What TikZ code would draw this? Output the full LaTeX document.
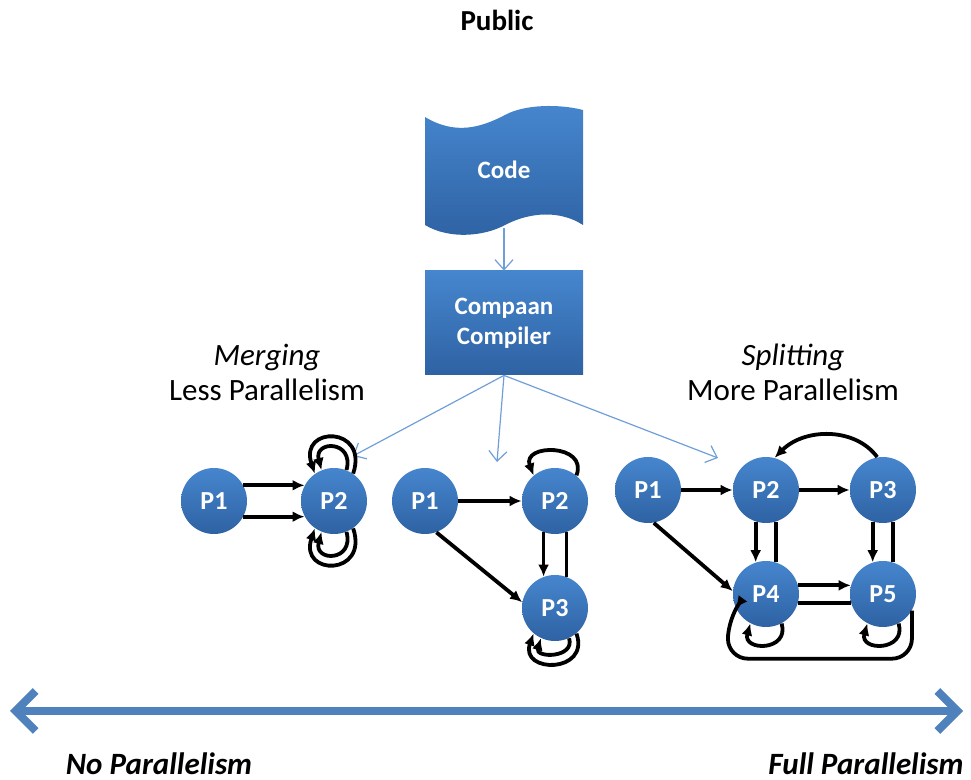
\documentclass[tikz,border=0pt]{standalone}
\usepackage{fontspec}
\setmainfont{Carlito}
\usetikzlibrary{arrows.meta,positioning}
\definecolor{boxtop}{HTML}{4686CE}
\definecolor{boxbot}{HTML}{2E62A3}
\definecolor{skyline}{HTML}{6F9FD8}
\definecolor{barblue}{HTML}{4F81BD}
\tikzset{boxtext/.style={text=white,align=center,font=\bfseries\fontsize{12.5}{15}\selectfont},
 box/.style={boxtext,rectangle,top color=boxtop,bottom color=boxbot,minimum width=79pt,minimum height=52pt},
 proc/.style={circle,minimum size=33pt,inner sep=0pt,top color=boxtop,bottom color=boxbot,text=white,font=\bfseries\fontsize{13}{15}\selectfont},
 link/.style={-{Latex[length=6pt,width=5.5pt]},line width=1.9pt},twin/.style={line width=1.9pt},
 feed/.style={-{Straight Barb[length=5pt,width=9pt]},draw=skyline,line width=0.6pt},
 side/.style={align=center,font=\fontsize{15.5}{17.5}\selectfont},
 bar/.style={{Straight Barb[length=10pt,width=20pt]}-{Straight Barb[length=10pt,width=20pt]},draw=barblue,line width=4pt}}
\begin{document}
\begin{tikzpicture}[x=0.5pt,y=-0.5pt]
\useasboundingbox (0,0) rectangle (971,780);
\node[font=\bfseries\fontsize{14.5}{17}\selectfont] (pub) at (497,20) {Public};
% code and compiler
\shade[top color=boxtop,bottom color=boxbot] (425,117) .. controls (455,135) and (480,128) .. (505,115)
 .. controls (525,104) and (560,104) .. (583,110) -- (583,225)
 .. controls (560,210) and (530,212) .. (505,225) .. controls (485,236) and (450,240) .. (425,225) -- cycle;
\node[boxtext,minimum width=79pt,minimum height=58pt] (code) at (504,170) {Code};
\node[box] (comp) at (504,323) {Compaan\\Compiler};
\draw[feed] (code.south) -- (comp.north);
\coordinate (mtip) at (353,456);
\coordinate (stip) at (497,462);
\coordinate (ftip) at (718,458);
\foreach \t in {mtip,stip,ftip}
 \draw[feed] (comp.south) -- (\t);
\node[side] (merge) at (267,372) {\textit{Merging}\\Less Parallelism};
\node[side] (split) at (793,372) {\textit{Splitting}\\More Parallelism};
% merged
\node[proc] (a1) at (214,501) {P1};
\node[proc] (a2) at (334,501) {P2};
\draw[link] (a1.28) -- (a2.152);
\draw[link] (a1.-28) -- (a2.-152);
\draw[link] (a2.55) .. controls +(16,-48) and +(-16,-48) .. (a2.125);
\draw[link] (a2.68) .. controls +(8,-30) and +(-8,-30) .. (a2.112);
\draw[link] (a2.-55) .. controls +(16,48) and +(-16,48) .. (a2.-125);
\draw[link] (a2.-68) .. controls +(8,30) and +(-8,30) .. (a2.-112);
% original
\node[proc] (b1) at (425,501) {P1};
\node[proc] (b2) at (555,501) {P2};
\node[proc] (b3) at (555,608) {P3};
\draw[link] (b1.east) -- (b2.west);
\draw[link] (b1.-70) -- (b3.170);
\draw[link] (b2.-110) -- (b3.110);
\draw[twin] (b2.-70) -- (b3.70);
\draw[link] (b2.50) .. controls +(12,-32) and +(-12,-32) .. (b2.130);
\draw[link] (b3.-50) .. controls +(14,40) and +(-14,40) .. (b3.-130);
\draw[link] (b3.-65) .. controls +(6,20) and +(-6,20) .. (b3.-115);
% split
\node[proc] (c1) at (648,490) {P1};
\node[proc] (c2) at (766,490) {P2};
\node[proc] (c3) at (883,490) {P3};
\node[proc] (c4) at (766,594) {P4};
\node[proc] (c5) at (883,594) {P5};
\draw[link] (c1.east) -- (c2.west);
\draw[link] (c2.east) -- (c3.west);
\draw[link] (c1.-80) -- (c4.175);
\draw[link] (c2.-108) -- (c4.108);
\draw[twin] (c2.-72) -- (c4.72);
\draw[link] (c3.-108) -- (c5.108);
\draw[twin] (c3.-72) -- (c5.72);
\draw[link] (c4.15) -- (c5.165);
\draw[twin] (c4.-15) -- (c5.-165);
\draw[link] (c3.100) .. controls +(-22,-30) and +(30,-30) .. (c2.75);
\draw[link,rounded corners=10pt] (c5.-30) -- ++(0,48) -- ++(-184,0) -- ++(0,-40) -- (c4.-155);
\draw[link] (c4.-62) .. controls +(8,28) and +(-8,28) .. (c4.-118);
\draw[link] (c5.-62) .. controls +(8,28) and +(-8,28) .. (c5.-118);
% scale
\coordinate (lo) at (10,711);
\coordinate (hi) at (963,711);
\draw[bar] (lo) -- (hi);
\node[side,font=\bfseries\itshape\fontsize{15.5}{17.5}\selectfont] (none) at (159,764) {No Parallelism};
\node[side,font=\bfseries\itshape\fontsize{15.5}{17.5}\selectfont] (full) at (866,764) {Full Parallelism};
\end{tikzpicture}
\end{document}
